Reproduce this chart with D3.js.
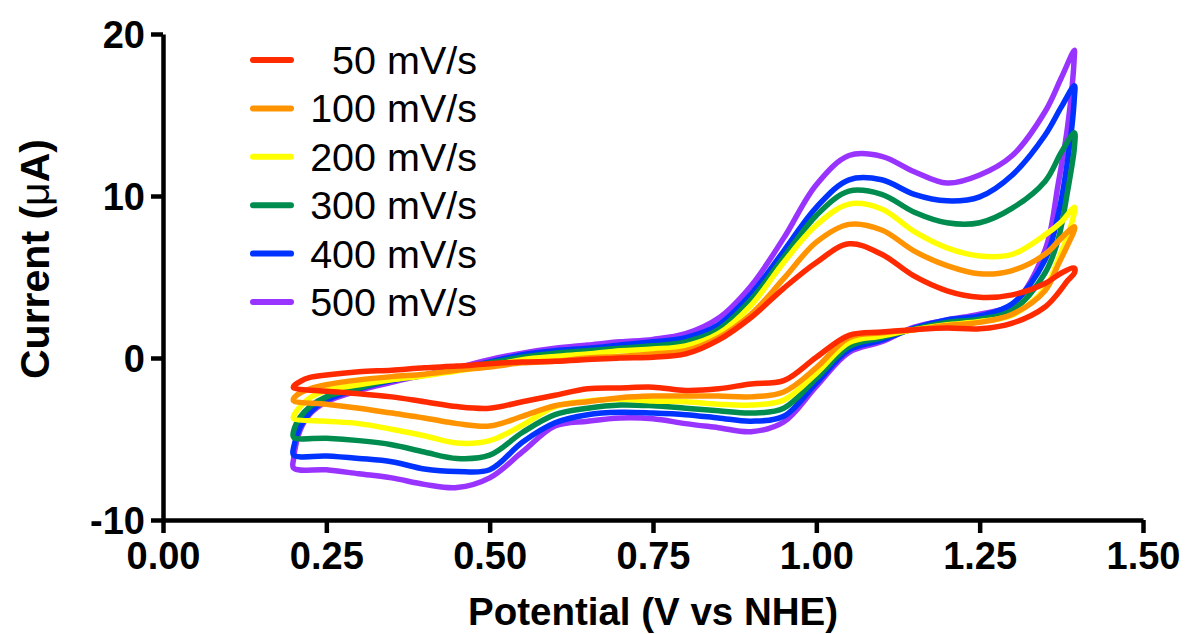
<!DOCTYPE html>
<html>
<head>
<meta charset="utf-8">
<script src="https://cdn.jsdelivr.net/npm/d3@7"></script>
<style>
  body { margin: 0; background: #fff; }
  text { font-family: "Liberation Sans", Arial, Helvetica, sans-serif; }
</style>
</head>
<body>
<div id="cv-chart"></div>
<script>

// scan rates (legend labels) and colours
var scanRates = ["50 mV/s", "100 mV/s", "200 mV/s", "300 mV/s", "400 mV/s", "500 mV/s"];
var scanColors = ["#ff2a00", "#ff9400", "#ffff00", "#008c4f", "#0033ff", "#9933ff"];

// potentials (V vs NHE) for the anodic (forward) and cathodic (reverse) sweeps
var forwardPotential = [0.20, 0.21, 0.225, 0.25, 0.30, 0.35, 0.40, 0.45, 0.50, 0.55, 0.60, 0.65, 0.70, 0.75,
                        0.80, 0.85, 0.90, 0.95, 1.00, 1.05, 1.10, 1.15, 1.20, 1.25, 1.30, 1.35, 1.375, 1.395];
var reversePotential = [1.395, 1.385, 1.37, 1.35, 1.30, 1.25, 1.20, 1.15, 1.10, 1.05, 1.00, 0.95, 0.90, 0.85,
                        0.80, 0.75, 0.70, 0.65, 0.60, 0.55, 0.50, 0.45, 0.40, 0.35, 0.30, 0.25, 0.20];

// currents (uA), forward sweep
var fwd_50  = [-1.75, -1.45, -1.2, -1.05, -0.85, -0.75, -0.6, -0.5, -0.35, -0.25, -0.2, -0.1, 0, 0.05, 0.25, 1.1, 2.5, 4.3, 5.9, 7.05, 6.4, 5.05, 4.15, 3.75, 3.9, 4.6, 5.25, 5.55];
var fwd_100 = [-2.5, -2.15, -1.9, -1.65, -1.35, -1.15, -1.0, -0.75, -0.55, -0.3, -0.2, 0, 0.1, 0.25, 0.45, 1.25, 2.7, 4.9, 7.15, 8.25, 7.9, 6.6, 5.7, 5.2, 5.4, 6.4, 7.4, 8.1];
var fwd_200 = [-3.6, -3.0, -2.45, -2.0, -1.65, -1.35, -1.1, -0.8, -0.5, -0.1, 0.1, 0.25, 0.45, 0.55, 0.75, 1.5, 3.25, 5.9, 8.2, 9.5, 9.2, 7.8, 6.8, 6.3, 6.4, 7.6, 8.4, 9.3];
var fwd_300 = [-4.5, -3.65, -3.0, -2.4, -1.85, -1.35, -1.05, -0.7, -0.3, 0.05, 0.3, 0.45, 0.6, 0.75, 1.0, 1.75, 3.6, 6.2, 8.8, 10.3, 10.1, 9.0, 8.35, 8.35, 9.25, 10.9, 12.7, 13.9];
var fwd_400 = [-5.5, -4.25, -3.35, -2.6, -1.9, -1.4, -1.05, -0.7, -0.25, 0.2, 0.45, 0.6, 0.8, 1.0, 1.25, 2.05, 3.95, 6.6, 9.3, 11.0, 11.0, 10.1, 9.7, 9.95, 11.3, 13.75, 15.5, 16.8];
var fwd_500 = [-6.2, -4.45, -3.45, -2.7, -2.0, -1.5, -1.05, -0.6, -0.1, 0.3, 0.6, 0.8, 1.0, 1.15, 1.5, 2.45, 4.45, 7.4, 10.7, 12.5, 12.45, 11.5, 10.8, 11.3, 12.5, 15.2, 17.3, 19.0];

// currents (uA), reverse sweep
var rev_50  = [5.25, 4.8, 4.0, 3.15, 2.15, 1.8, 1.85, 1.75, 1.6, 1.4, 0.05, -1.4, -1.6, -1.9, -2.0, -1.8, -1.85, -1.9, -2.3, -2.7, -3.1, -3.0, -2.7, -2.4, -2.2, -2.05, -1.85];
var rev_100 = [7.9, 7.0, 5.75, 4.15, 2.7, 2.2, 2.0, 1.75, 1.55, 1.25, -0.6, -2.1, -2.4, -2.35, -2.35, -2.35, -2.45, -2.7, -2.95, -3.6, -4.2, -4.05, -3.7, -3.4, -3.1, -2.85, -2.65];
var rev_200 = [9.0, 7.6, 6.05, 4.3, 2.65, 2.25, 2.05, 1.75, 1.35, 0.95, -0.95, -2.6, -2.9, -2.85, -2.7, -2.65, -2.55, -2.65, -3.0, -4.15, -5.1, -5.25, -4.8, -4.4, -4.05, -3.9, -3.75];
var rev_300 = [13.0, 10.4, 7.3, 5.25, 2.95, 2.4, 2.2, 1.8, 1.25, 0.7, -1.25, -3.1, -3.4, -3.25, -3.1, -2.95, -2.9, -3.1, -3.5, -4.6, -6.0, -6.2, -5.8, -5.35, -5.1, -4.95, -4.9];
var rev_400 = [16.1, 12.3, 8.8, 6.05, 3.35, 2.6, 2.35, 1.85, 1.1, 0.5, -1.55, -3.6, -3.9, -3.7, -3.5, -3.4, -3.35, -3.5, -4.0, -5.2, -6.9, -7.0, -6.85, -6.4, -6.2, -6.05, -6.0];
var rev_500 = [18.7, 14.4, 10.7, 6.65, 3.3, 2.7, 2.35, 1.9, 1.0, 0.35, -1.75, -3.95, -4.55, -4.3, -4.05, -3.75, -3.7, -3.9, -4.2, -5.8, -7.4, -8.0, -7.8, -7.4, -7.15, -6.9, -6.8];

var forwardCurrents = [fwd_50, fwd_100, fwd_200, fwd_300, fwd_400, fwd_500];
var reverseCurrents = [rev_50, rev_100, rev_200, rev_300, rev_400, rev_500];

// axis ticks
var xTicks = [0, 0.25, 0.5, 0.75, 1.0, 1.25, 1.5];
var yTicks = [-10, 0, 10, 20];


CVChart = function(_parentElement){
    this.parentElement = _parentElement;
    this.initVis();
}

CVChart.prototype.initVis = function(){
    var vis = this;

    vis.margin = { top: 34, right: 43, bottom: 114, left: 163 };
    vis.width = 1186 - vis.margin.left - vis.margin.right;
    vis.height = 634 - vis.margin.top - vis.margin.bottom;

    vis.svg = d3.select("#" + vis.parentElement).append("svg")
        .attr("width", 1186)
        .attr("height", 634);

    vis.g = vis.svg.append("g")
        .attr("transform", "translate(" + vis.margin.left + "," + vis.margin.top + ")");

    vis.x = d3.scaleLinear().domain([0, 1.5]).range([0, vis.width]);
    vis.y = d3.scaleLinear().domain([-10, 20]).range([vis.height, 0]);

    // build one loop per scan rate: forward sweep then reverse sweep
    vis.series = scanRates.map(function(label, i){
        var pts = forwardPotential.map(function(v, j){ return [v, forwardCurrents[i][j]]; });
        reversePotential.forEach(function(v, j){ pts.push([v, reverseCurrents[i][j]]); });
        return { label: label, color: scanColors[i], points: pts };
    });

    vis.drawAxes();
    vis.drawCurves();
    vis.drawLegend();
}

CVChart.prototype.drawAxes = function(){
    var vis = this;

    var xAxis = d3.axisBottom(vis.x).tickValues(xTicks)
        .tickFormat(d3.format(".2f")).tickSize(13).tickSizeOuter(0).tickPadding(9);
    // plain hyphen for negatives, like the original
    var yAxis = d3.axisLeft(vis.y).tickValues(yTicks)
        .tickFormat(function(d){ return String(d); })
        .tickSize(12).tickSizeOuter(0).tickPadding(6);

    var gx = vis.g.append("g")
        .attr("transform", "translate(0," + vis.height + ")")
        .call(xAxis);
    var gy = vis.g.append("g").call(yAxis);

    [gx, gy].forEach(function(ax){
        ax.select(".domain").attr("stroke", "#000").attr("stroke-width", 4.5);
        ax.selectAll(".tick line").attr("stroke", "#000").attr("stroke-width", 4.5);
        ax.selectAll(".tick text")
            .attr("fill", "#000")
            .style("font-size", "38px")
            .style("font-weight", "bold")
            .style("font-family", "'Liberation Sans', Arial, sans-serif");
    });
    gy.selectAll(".tick text").attr("dy", "0.36em");

    // axis titles
    vis.svg.append("text")
        .attr("x", vis.margin.left + vis.width / 2)
        .attr("y", 625)
        .attr("text-anchor", "middle")
        .style("font-size", "38.5px")
        .style("font-weight", "bold")
        .text("Potential (V vs NHE)");

    var yt = vis.svg.append("text")
        .attr("transform", "translate(49,259) rotate(-90)")
        .attr("text-anchor", "middle")
        .style("font-size", "41px")
        .style("font-weight", "bold");
    yt.append("tspan").text("Current (");
    yt.append("tspan").style("font-weight", "normal").text("\u03bc");
    yt.append("tspan").text("A)");
}

CVChart.prototype.drawCurves = function(){
    var vis = this;

    var line = d3.line()
        .x(function(d){ return vis.x(d[0]); })
        .y(function(d){ return vis.y(d[1]); })
        .curve(d3.curveCatmullRomClosed.alpha(0.5));

    // purple first, red on top
    vis.g.selectAll(".cv-loop")
        .data(vis.series.slice().reverse())
        .enter().append("path")
        .attr("class", "cv-loop")
        .attr("d", function(d){ return line(d.points); })
        .attr("fill", "none")
        .attr("stroke", function(d){ return d.color; })
        .attr("stroke-width", 5.5)
        .attr("stroke-linejoin", "round");
}

CVChart.prototype.drawLegend = function(){
    var vis = this;

    var legend = vis.svg.append("g").attr("class", "legend");
    var rows = legend.selectAll(".legend-row")
        .data(vis.series)
        .enter().append("g")
        .attr("class", "legend-row")
        .attr("transform", function(d, i){ return "translate(0," + (60 + i * 48.4) + ")"; });

    rows.append("line")
        .attr("x1", 253).attr("x2", 291)
        .attr("y1", 0).attr("y2", 0)
        .attr("stroke", function(d){ return d.color; })
        .attr("stroke-width", 6)
        .attr("stroke-linecap", "round");

    rows.append("text")
        .attr("x", 477)
        .attr("y", 14)
        .attr("text-anchor", "end")
        .style("font-size", "39.5px")
        .attr("fill", "#000")
        .text(function(d){ return d.label; });
}

var chart = new CVChart("cv-chart");

</script>
</body>
</html>
